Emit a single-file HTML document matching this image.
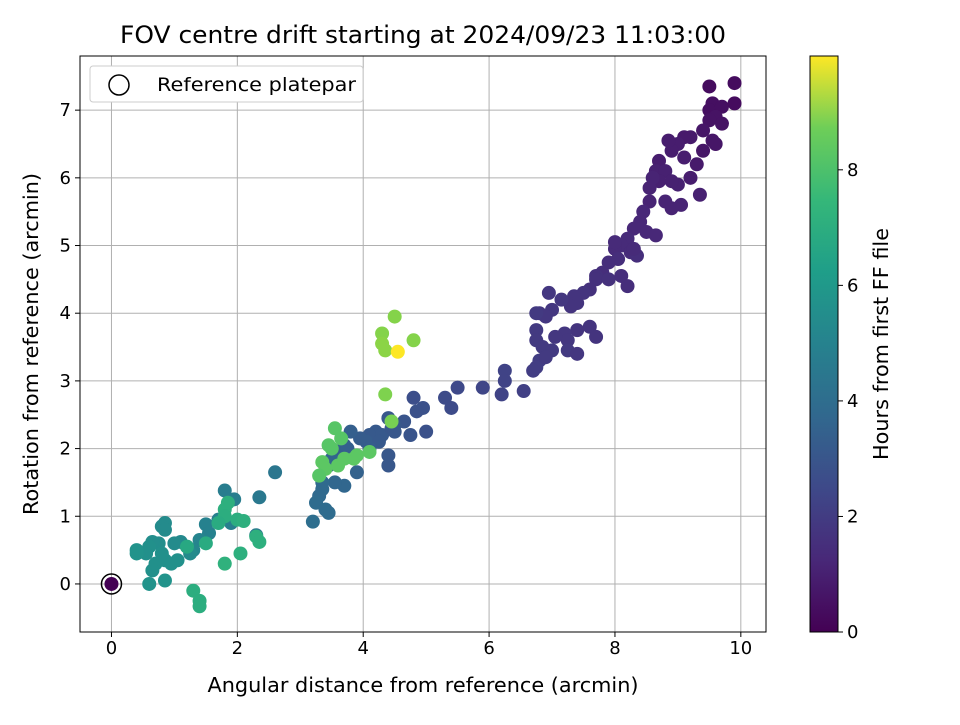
<!DOCTYPE html>
<html><head><meta charset="utf-8"><style>
body{margin:0;background:#fff;font-family:"Liberation Sans","DejaVu Sans",sans-serif}
svg text{font-family:"DejaVu Sans","Liberation Sans",sans-serif;fill:#000}
</style></head><body>
<svg id="chart" width="960" height="720" xmlns="http://www.w3.org/2000/svg">
<defs><linearGradient id="vir" x1="0" y1="1" x2="0" y2="0">
<stop offset="0" stop-color="#440154"/><stop offset="0.125" stop-color="#482878"/><stop offset="0.25" stop-color="#3e4989"/><stop offset="0.375" stop-color="#31688e"/><stop offset="0.5" stop-color="#26828e"/><stop offset="0.625" stop-color="#1f9e89"/><stop offset="0.75" stop-color="#35b779"/><stop offset="0.875" stop-color="#6ece58"/><stop offset="1" stop-color="#fde725"/></linearGradient></defs>
<text x="423" y="43" font-size="24" text-anchor="middle" textLength="606" lengthAdjust="spacingAndGlyphs">FOV centre drift starting at 2024/09/23 11:03:00</text>
<g id="grid"></g><g id="pts"></g><g id="axes"></g>
<rect x="80" y="56" width="686" height="576" fill="none" stroke="#000" stroke-width="1"/>
<g>
<rect x="90" y="66" width="273" height="36" rx="3" fill="#fff" stroke="#ccc"/>
<circle cx="119" cy="85" r="10" fill="none" stroke="#000" stroke-width="1.5"/>
<text x="157" y="91" font-size="19" textLength="199" lengthAdjust="spacingAndGlyphs">Reference platepar</text></g>
<text x="423" y="692" font-size="20" text-anchor="middle" textLength="431" lengthAdjust="spacingAndGlyphs">Angular distance from reference (arcmin)</text>
<text x="38" y="344" font-size="20" text-anchor="middle" transform="rotate(-90 38 344)" textLength="342" lengthAdjust="spacingAndGlyphs">Rotation from reference (arcmin)</text>
<rect x="810" y="56" width="28" height="576" fill="url(#vir)" stroke="#000"/>
<g id="cbticks"></g>
<text x="888" y="344" font-size="20" text-anchor="middle" transform="rotate(-90 888 344)" textLength="232" lengthAdjust="spacingAndGlyphs">Hours from first FF file</text>
</svg>
<script>
const xTicks=[0,2,4,6,8,10];
const yTicks=[0,1,2,3,4,5,6,7];
const cbTicks=[0,2,4,6,8];
const xs=[9.9,9.5,9.55,9.5,9.7,9.9,9.6,9.5,9.7,9.4,9.55,9.4,9.6,9.2,9.1,9.3,9.0,8.9,8.85,8.7,8.65,8.8,9.1,9.2,9.35,9.0,8.9,8.7,8.55,8.6,8.8,9.05,8.9,8.55,8.45,8.4,8.3,8.5,8.65,8.2,8.1,8.0,8.0,8.25,8.35,8.3,8.05,7.9,7.8,7.7,7.7,7.9,8.1,8.2,7.6,7.5,7.35,7.4,7.3,7.15,7.0,6.8,6.9,6.75,6.95,7.6,7.7,7.4,7.2,7.25,7.05,6.75,6.75,6.85,7.0,7.25,6.8,6.75,6.7,6.9,7.4,
6.25,6.25,6.2,6.55,5.9,5.5,5.3,5.4,4.8,4.95,4.85,4.65,4.4,4.5,4.2,4.1,4.3,4.05,3.95,3.8,3.7,3.6,3.75,4.45,4.5,4.75,5.0,4.4,4.4,3.9,3.5,3.45,3.7,3.55,3.35,3.35,3.3,3.25,3.4,3.45,3.2,4.25,4.1,
3.55,3.45,3.65,3.5,3.6,3.35,3.4,3.9,3.85,4.1,3.7,3.3,
4.5,4.3,4.3,4.35,4.8,4.35,4.45,
2.6,2.35,2.3,1.95,1.8,1.5,1.7,1.9,1.55,1.4,1.3,1.2,1.1,1.0,0.85,0.8,0.85,0.75,0.65,0.6,0.55,0.4,0.4,0.8,0.85,0.95,1.05,0.7,0.65,0.6,0.85,1.25,
1.8,1.8,2.0,2.1,2.3,2.35,2.05,1.8,1.7,1.5,1.3,1.4,1.4,1.2,1.85,4.55,0];
const ys=[7.4,7.35,7.1,7.0,7.05,7.1,6.9,6.85,6.8,6.7,6.55,6.4,6.5,6.6,6.6,6.2,6.5,6.4,6.55,6.25,6.1,6.1,6.3,6.0,5.75,5.9,5.95,5.95,5.85,6.0,5.65,5.6,5.55,5.65,5.5,5.35,5.25,5.2,5.15,5.1,5.0,4.95,5.05,4.9,4.85,4.95,4.8,4.75,4.6,4.55,4.5,4.5,4.55,4.4,4.35,4.3,4.25,4.15,4.1,4.2,4.05,4.0,3.95,4.0,4.3,3.8,3.65,3.75,3.7,3.6,3.65,3.75,3.6,3.5,3.45,3.45,3.3,3.2,3.15,3.35,3.4,
3.15,3.0,2.8,2.85,2.9,2.9,2.75,2.6,2.75,2.6,2.55,2.4,2.45,2.35,2.25,2.2,2.2,2.1,2.15,2.25,2.05,1.9,2.0,2.3,2.25,2.2,2.25,1.9,1.75,1.65,1.85,1.75,1.45,1.5,1.5,1.4,1.3,1.2,1.1,1.05,0.92,2.1,2.0,
2.3,2.05,2.15,2.0,1.75,1.8,1.7,1.9,1.85,1.95,1.85,1.6,
3.95,3.7,3.55,3.45,3.6,2.8,2.4,
1.65,1.28,0.72,1.25,1.38,0.88,0.95,0.9,0.75,0.65,0.5,0.55,0.62,0.6,0.9,0.85,0.8,0.6,0.62,0.55,0.45,0.5,0.45,0.45,0.35,0.3,0.35,0.3,0.2,0.0,0.05,0.45,
1.1,1.0,0.95,0.93,0.7,0.62,0.45,0.3,0.9,0.6,-0.1,-0.25,-0.33,0.55,1.2,3.43,0];
const hours=[0.3,0.3,0.4,0.4,0.4,0.3,0.5,0.5,0.5,0.6,0.6,0.6,0.6,0.7,0.7,0.7,0.8,0.8,0.8,0.8,0.9,0.9,0.8,0.8,0.9,0.9,0.9,0.9,1.0,1.0,1.0,1.0,1.0,1.0,1.1,1.1,1.1,1.1,1.1,1.2,1.2,1.2,1.2,1.2,1.3,1.2,1.3,1.3,1.3,1.4,1.4,1.4,1.3,1.3,1.4,1.5,1.5,1.5,1.5,1.6,1.6,1.6,1.6,1.7,1.6,1.5,1.5,1.5,1.6,1.6,1.6,1.7,1.7,1.7,1.7,1.7,1.8,1.8,1.8,1.7,1.6,
2.0,2.0,2.0,1.9,2.1,2.2,2.3,2.3,2.4,2.5,2.5,2.6,2.7,2.7,2.8,2.8,2.8,2.9,2.9,3.0,3.0,3.0,3.0,2.7,2.7,2.6,2.5,2.7,2.7,3.1,3.2,3.2,3.3,3.3,3.4,3.4,3.4,3.5,3.5,3.5,3.6,2.8,2.9,
7.3,7.3,7.3,7.3,7.4,7.4,7.4,7.4,7.4,7.4,7.4,7.3,
8.1,8.1,8.2,8.2,8.1,8.0,7.9,
3.9,4.0,4.1,4.2,4.2,4.4,4.3,4.3,4.4,4.5,4.6,4.6,4.7,4.8,4.8,4.8,4.8,4.9,4.9,5.0,5.0,5.1,5.1,5.0,5.0,5.0,5.0,5.0,5.0,5.1,5.1,4.8,
6.3,6.2,6.2,6.3,6.3,6.3,6.3,6.4,6.1,6.1,6.2,6.2,6.2,6.0,6.3,9.97,0];
const xmin=-0.5,xmax=10.4,ymin=-0.71,ymax=7.8,hmax=9.97;
const L=80,R=766,T=56,B=632;
const sx=v=>L+(v-xmin)/(xmax-xmin)*(R-L);
const sy=v=>B-(v-ymin)/(ymax-ymin)*(B-T);
const sc=v=>632-v/hmax*576;
const NS="http://www.w3.org/2000/svg";
const vir=[[68,1,84],[72,40,120],[62,73,137],[49,104,142],[38,130,142],[31,158,137],[53,183,121],[110,206,88],[181,222,43],[253,231,37]];
function col(h){let t=Math.max(0,Math.min(1,h/hmax))*(vir.length-1);let i=Math.min(vir.length-2,Math.floor(t)),f=t-i;
return 'rgb('+vir[i].map((c,k)=>Math.round(c+(vir[i+1][k]-c)*f)).join(',')+')';}
function mk(tag,attrs,parent){const e=document.createElementNS(NS,tag);for(const k in attrs)e.setAttribute(k,attrs[k]);document.getElementById(parent).appendChild(e);return e;}
xTicks.forEach(v=>{const x=sx(v);
let g=mk('line',{x1:x,x2:x,y1:T,y2:B,stroke:'#b0b0b0','stroke-width':1},'grid');
let t=mk('line',{x1:x,x2:x,y1:B,y2:B+5,stroke:'#000'},'axes');
let l=mk('text',{x:x,y:B+22,'font-size':18,'text-anchor':'middle'},'axes');l.textContent=v;});
yTicks.forEach(v=>{const y=sy(v);
let g=mk('line',{x1:L,x2:R,y1:y,y2:y,stroke:'#b0b0b0','stroke-width':1},'grid');
let t=mk('line',{x1:L-5,x2:L,y1:y,y2:y,stroke:'#000'},'axes');
let l=mk('text',{x:L-9,y:y+6,'font-size':18,'text-anchor':'end'},'axes');l.textContent=v;});
cbTicks.forEach(v=>{const y=sc(v);
let t=mk('line',{x1:838,x2:843,y1:y,y2:y,stroke:'#000'},'cbticks');
let l=mk('text',{x:847,y:y+6,'font-size':18},'cbticks');l.textContent=v;});
for(let i=0;i<xs.length;i++){
const last=i===xs.length-1;
let c=mk('circle',{cx:sx(xs[i]),cy:sy(ys[i]),r:7,fill:col(hours[i])},'pts');


if(last){let r=mk('circle',{cx:sx(xs[i]),cy:sy(ys[i]),r:10,fill:'none',stroke:'#000','stroke-width':1.5},'pts');

}
}
</script>
</body></html>
